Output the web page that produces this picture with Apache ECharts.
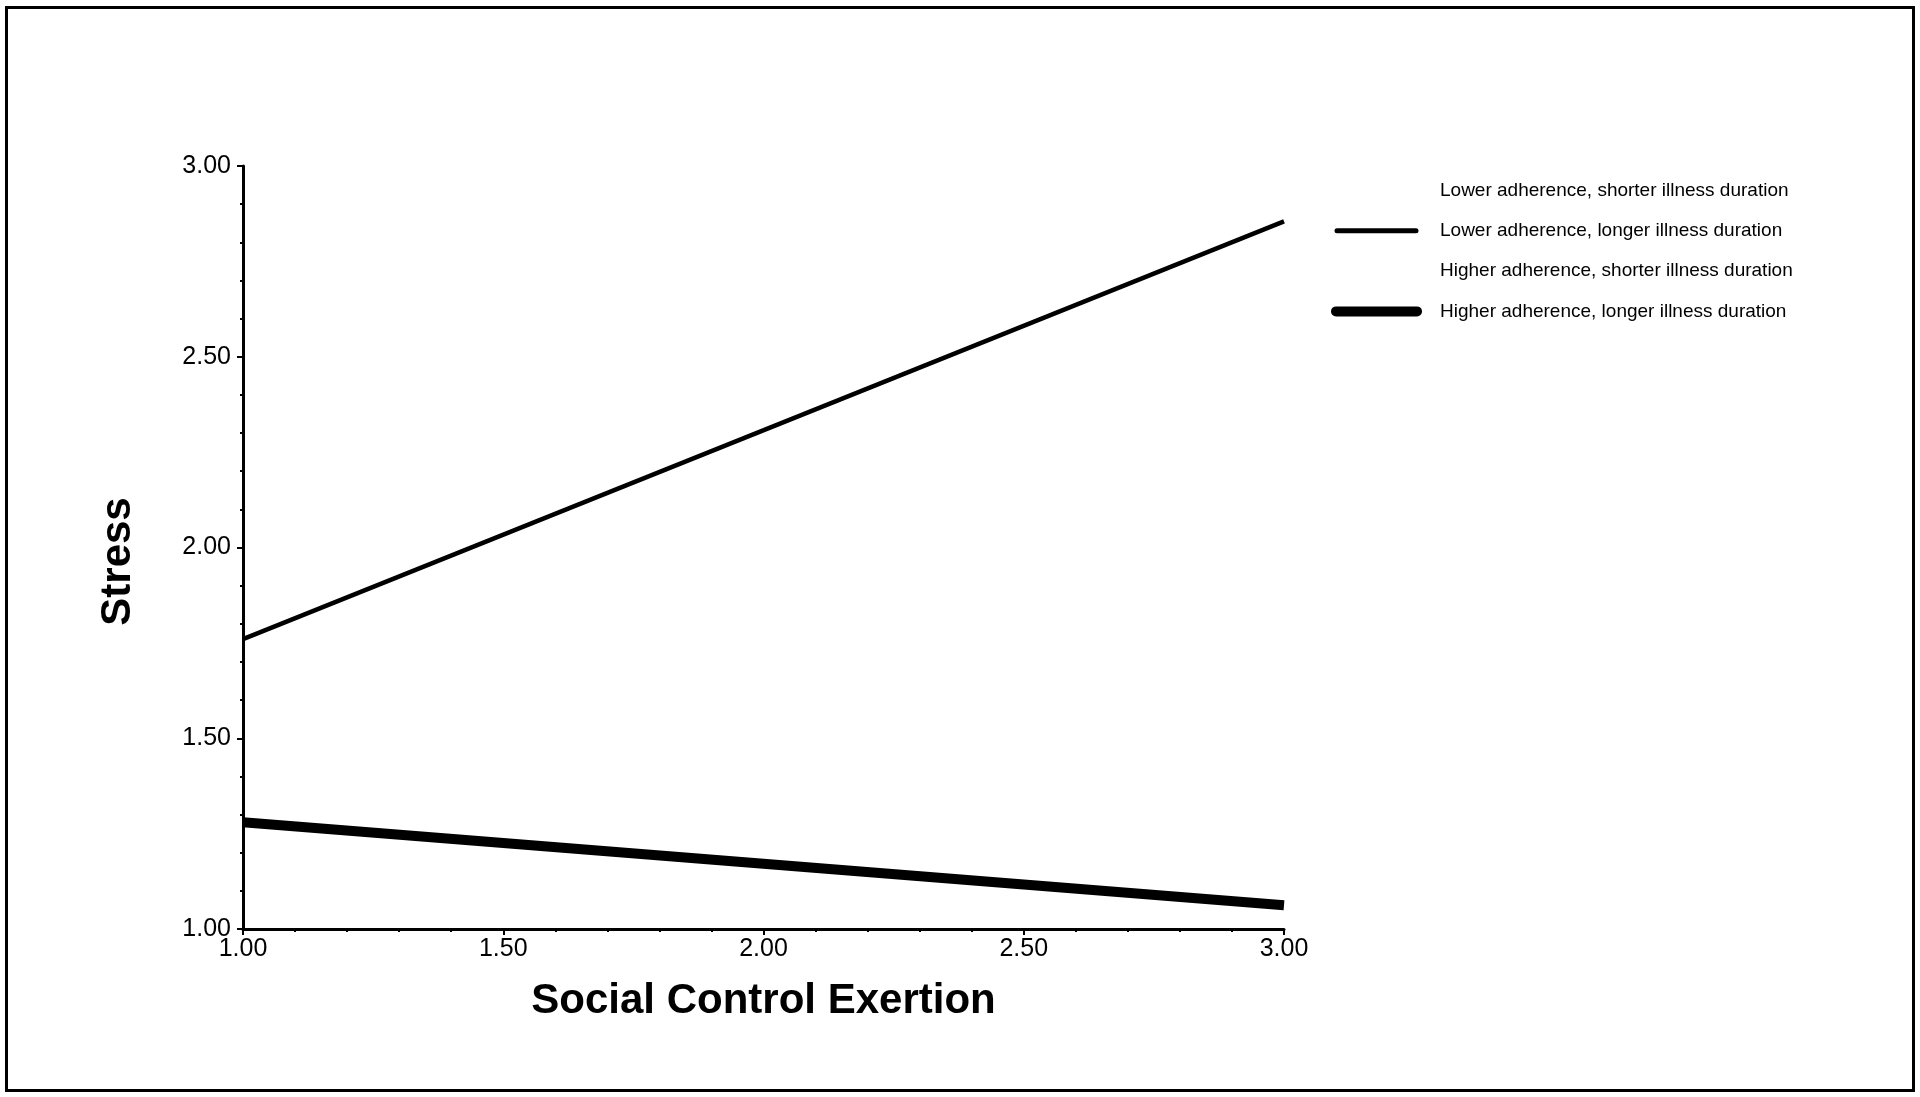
<!DOCTYPE html>
<html>
<head>
<meta charset="utf-8">
<script src="https://cdn.jsdelivr.net/npm/echarts@6/dist/echarts.min.js"></script>
<style>
html,body{margin:0;padding:0;background:#fff;}
#chart{width:1920px;height:1097px;}
</style>
</head>
<body>
<div id="chart"></div>
<script>
const xValues = [1.0, 3.0];
const seriesNames = [
  'Lower adherence, shorter illness duration',
  'Lower adherence, longer illness duration',
  'Higher adherence, shorter illness duration',
  'Higher adherence, longer illness duration'
];
const lowerShorter = [];
const lowerLonger = [1.76, 2.855];
const higherShorter = [];
const higherLonger = [1.28, 1.062];
const xAxisTitle = 'Social Control Exertion';
const yAxisTitle = 'Stress';

const FONT = '"Liberation Sans", Arial, Helvetica, sans-serif';
const pairs = (vals) => vals.map((v, i) => [xValues[i], v]);
const THIN_ICON = 'path://M0,0 L0,0 M91,19 L91,19 M6,7 H85 A2.5,2.5 0 0 1 85,12 H6 A2.5,2.5 0 0 1 6,7 Z';
const THICK_ICON = 'path://M0,0 L0,0 M91,19 L91,19 M5,4.5 H86 A5,5 0 0 1 86,14.5 H5 A5,5 0 0 1 5,4.5 Z';

const chart = echarts.init(document.getElementById('chart'), null, {renderer: 'canvas'});
const axisCommon = {
  type: 'value', min: 1, max: 3, interval: 0.5,
  axisLine: {show: true, onZero: false, lineStyle: {color: '#000', width: 3}},
  axisTick: {show: true, length: 6, lineStyle: {color: '#000', width: 2}},
  minorTick: {show: true, splitNumber: 5, length: 3, lineStyle: {color: '#000', width: 2}},
  splitLine: {show: false},
  axisLabel: {color: '#000', fontFamily: FONT, fontSize: 25, formatter: v => v.toFixed(2)},
  nameLocation: 'middle',
  nameTextStyle: {color: '#000', fontFamily: FONT, fontSize: 42, fontWeight: 'bold'}
};
chart.setOption({
  animation: false,
  backgroundColor: '#fff',
  graphic: [{
    type: 'rect', left: 4, top: 5,
    shape: {width: 1907, height: 1083},
    style: {fill: 'none', stroke: '#000', lineWidth: 3}
  }],
  grid: {left: 243, right: 636, top: 166, bottom: 168, containLabel: false},
  xAxis: Object.assign({}, axisCommon, {
    name: xAxisTitle, nameGap: 51,
    axisLabel: Object.assign({}, axisCommon.axisLabel, {margin: 8})
  }),
  yAxis: Object.assign({}, axisCommon, {
    name: yAxisTitle, nameGap: 104, nameRotate: 90,
    nameTextStyle: Object.assign({}, axisCommon.nameTextStyle, {padding: [0, 28, 0, 0]}),
    axisLabel: Object.assign({}, axisCommon.axisLabel, {margin: 12})
  }),
  legend: {
    orient: 'vertical', left: 1326, top: 176,
    itemWidth: 91, itemHeight: 19, itemGap: 21.3,
    textStyle: {color: '#000', fontFamily: FONT, fontSize: 19, padding: [0, 0, 0, 13]},
    data: [
      {name: seriesNames[0], icon: THIN_ICON},
      {name: seriesNames[1], icon: THIN_ICON},
      {name: seriesNames[2], icon: THICK_ICON},
      {name: seriesNames[3], icon: THICK_ICON}
    ]
  },
  series: [
    {name: seriesNames[0], type: 'line', data: pairs(lowerShorter), symbol: 'none',
     lineStyle: {color: '#fff', width: 4.5}, itemStyle: {color: '#fff'}},
    {name: seriesNames[1], type: 'line', data: pairs(lowerLonger), symbol: 'none',
     lineStyle: {color: '#000', width: 4.5}, itemStyle: {color: '#000'}},
    {name: seriesNames[2], type: 'line', data: pairs(higherShorter), symbol: 'none',
     lineStyle: {color: '#fff', width: 10}, itemStyle: {color: '#fff'}},
    {name: seriesNames[3], type: 'line', data: pairs(higherLonger), symbol: 'none',
     lineStyle: {color: '#000', width: 10}, itemStyle: {color: '#000'}}
  ]
});
</script>
</body>
</html>
